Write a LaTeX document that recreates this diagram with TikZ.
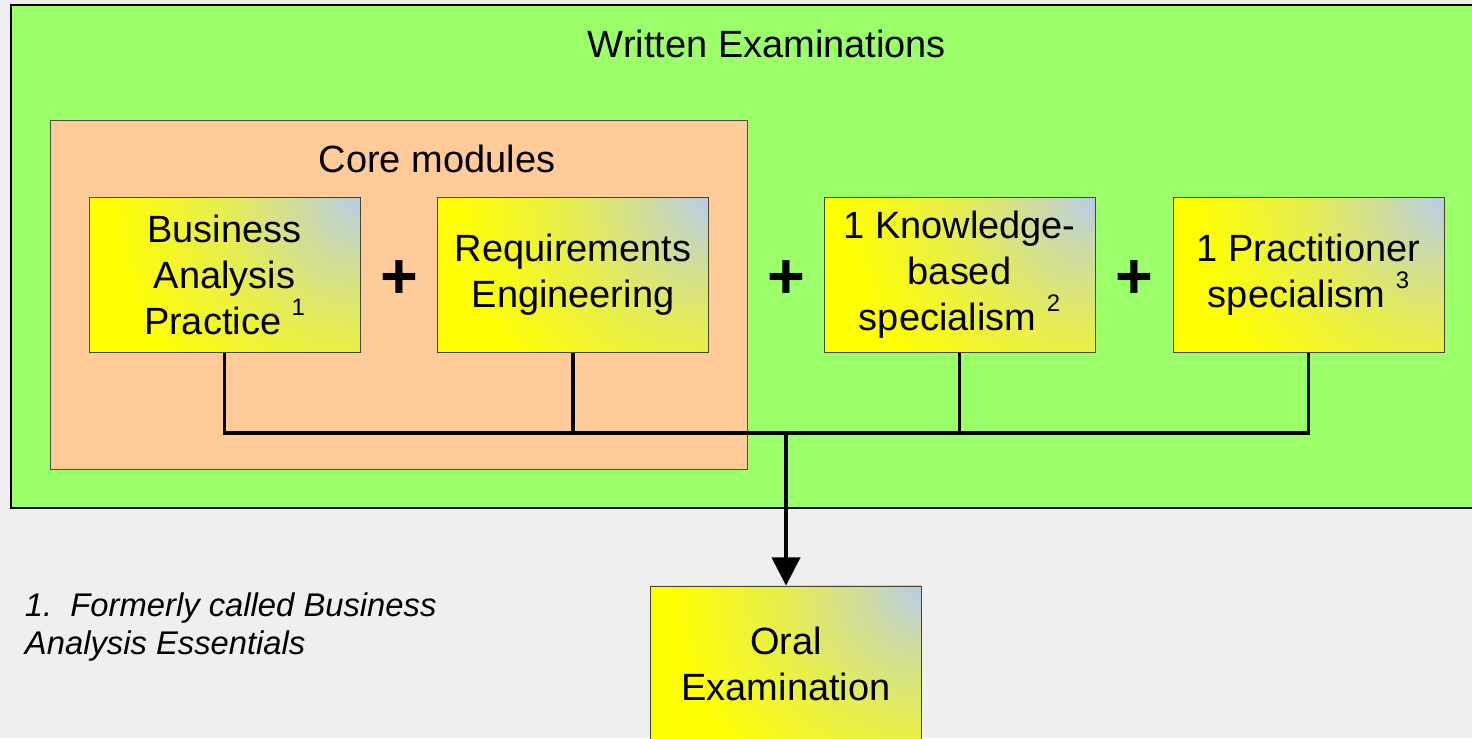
\documentclass[tikz,border=0pt]{standalone}
\usepackage{fontspec}
\setmainfont{Liberation Sans}
\usepackage{xcolor}
\usetikzlibrary{arrows.meta, positioning, calc}

\definecolor{pagegray}{RGB}{239,239,239}
\definecolor{examgreen}{RGB}{155,255,105}
\definecolor{coreorange}{RGB}{255,204,153}
\definecolor{cornerblue}{RGB}{184,204,232}
\definecolor{boxedge}{RGB}{70,70,40}

\pgfdeclareradialshading{cornerglow}{\pgfpoint{0bp}{0bp}}{%
    color(0bp)=(cornerblue); color(4bp)=(cornerblue!70!yellow);
    color(9.5bp)=(cornerblue!35!yellow); color(17.5bp)=(yellow); color(50bp)=(yellow)}

\newcommand{\fnmark}[1]{ \raisebox{0.5em}{\fontsize{17}{17}\selectfont #1}}

\begin{document}
\begin{tikzpicture}[
    x=0.025cm, y=-0.025cm,
    exam/.style={rectangle, draw=boxedge, line width=0.6pt, fill=yellow,
        minimum width=6.775cm, minimum height=3.875cm, align=center,
        font=\fontsize{27}{32.7}\selectfont,
        path picture={\shade[shading=cornerglow]
            (path picture bounding box.north east) circle (9cm);}},
    title/.style={font=\fontsize{27}{32.7}\selectfont},
    plus/.style={font=\fontsize{46}{46}\selectfont\bfseries},
    note/.style={font=\fontsize{23.3}{27}\selectfont\itshape, align=left, anchor=north west},
    link/.style={line width=2.4pt},
    arrow/.style={line width=2.5pt, -{Triangle[width=20pt, length=20pt]}}
]
\clip (0,0) rectangle (1472,738);
\useasboundingbox (0,0) rectangle (1472,738);
\fill[pagegray] (0,0) rectangle (1472,738);

% Areas
\draw[fill=examgreen, line width=1.1pt] (11,5) rectangle (1500,508);
\draw[fill=coreorange, draw=black!70, line width=0.7pt] (50,120) rectangle (747,469);
\node[title] (written) at (767,44) {Written Examinations};
\node[title] (core) at (437,159) {Core modules};

% Nodes
\node[exam] (bap) at (224.5,275) {Business\\Analysis\\Practice\fnmark{1}};
\node[exam] (re) at (573,275) {Requirements\\Engineering};
\node[exam] (kb) at (959.5,275) {1 Knowledge-\\based\\specialism\fnmark{2}};
\node[exam] (ps) at (1308.5,275) {1 Practitioner\\specialism\fnmark{3}};
\node[exam] (oral) at (786,663.5) {Oral\\Examination};

\node[plus] (plus1) at (399,280) {+};
\node[plus] (plus2) at (786,280) {+};
\node[plus] (plus3) at (1134,280) {+};

\node[note] (footnote) at (20,588) {1.\ \ Formerly called Business\\Analysis Essentials};

% Arrows
\coordinate (bus) at (0,433);
\draw[link] (bap.south) -- (bap.south |- bus) -- (ps.south |- bus) -- (ps.south);
\draw[link] (re.south) -- (re.south |- bus);
\draw[link] (kb.south) -- (kb.south |- bus);
\draw[arrow] (oral.north |- bus) -- (oral.north);

\end{tikzpicture}
\end{document}
